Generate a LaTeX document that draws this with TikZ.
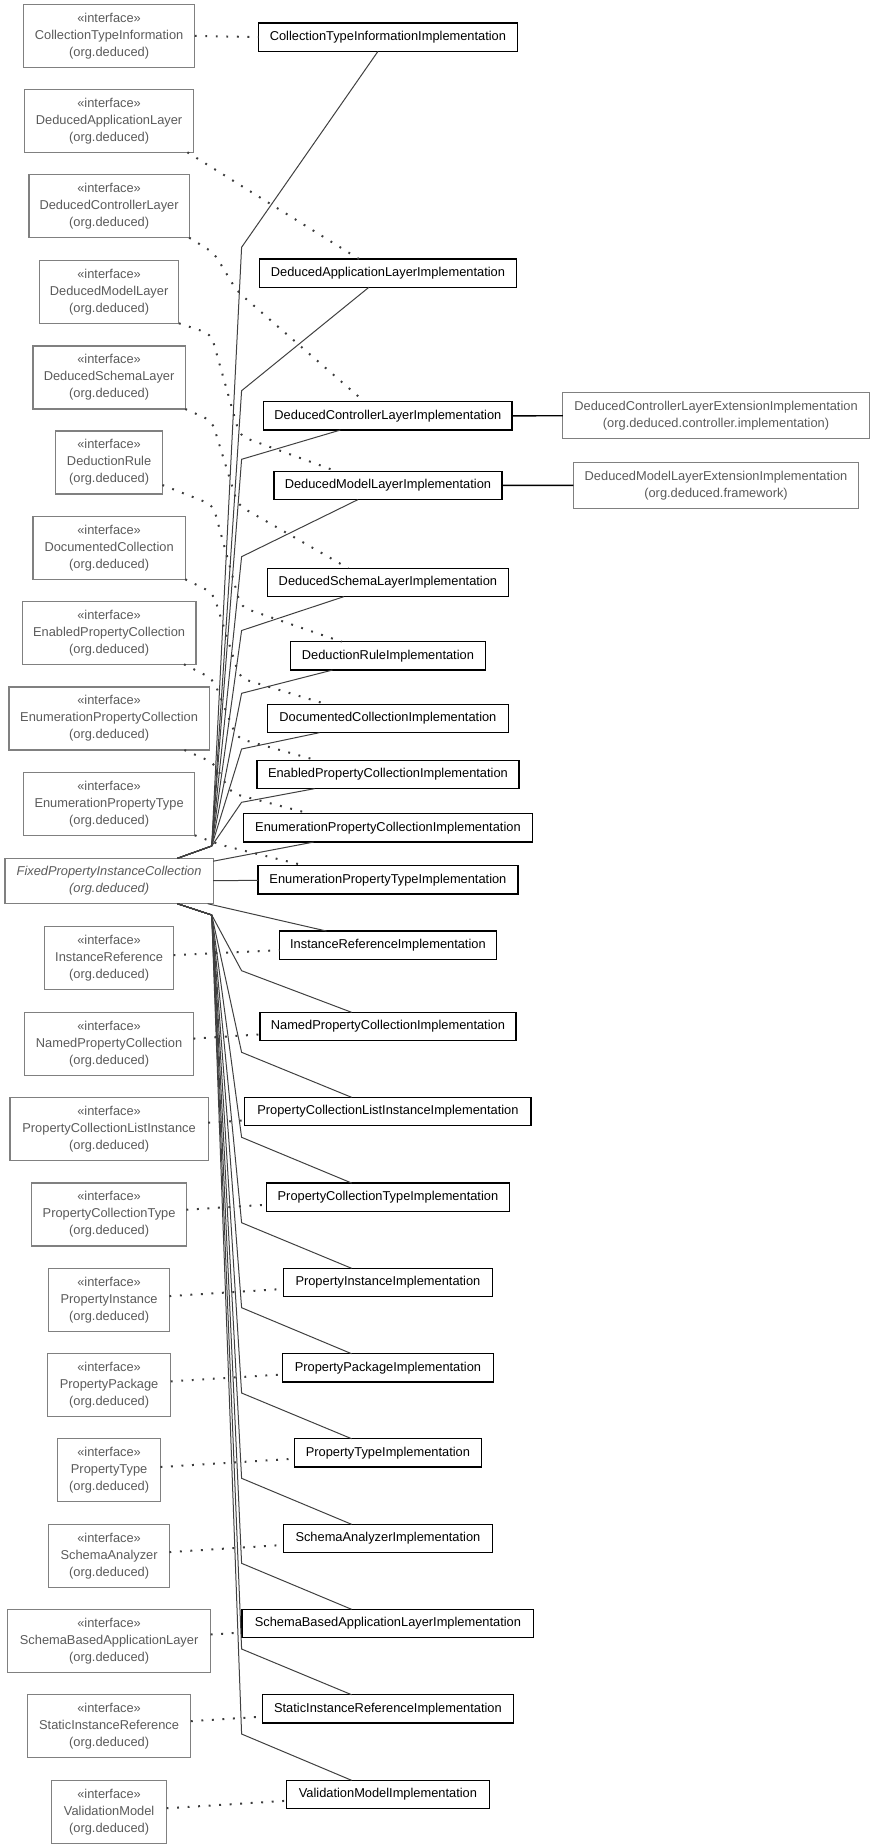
\documentclass[tikz,border=0pt]{standalone}
\usepackage{fontspec}
\setmainfont{Liberation Sans}
\usetikzlibrary{calc}
\definecolor{ifcline}{RGB}{128,128,128}
\definecolor{ifctext}{RGB}{90,90,90}
\definecolor{edgecol}{RGB}{64,64,64}
\definecolor{dotcol}{RGB}{60,60,60}
\begin{document}
\begin{tikzpicture}[x=0.7466pt,y=-0.75pt,
  every node/.style={font=\fontsize{9.63}{12.75}\selectfont, inner sep=0pt, outer sep=0pt},
  ifcbox/.style={draw=ifcline, line width=0.9pt, text=ifctext, align=center, minimum height=63*0.75pt, minimum width=#1*0.7466pt},
  fixbox/.style={draw=ifcline, line width=0.9pt, text=ifctext, align=center, font=\fontsize{9.63}{12.75}\selectfont\itshape, minimum height=45.4*0.75pt, minimum width=#1*0.7466pt},
  implbox/.style={draw=black, line width=1.05pt, text=black, minimum height=28.3*0.75pt, minimum width=#1*0.7466pt},
  extbox/.style={draw=ifcline, line width=0.9pt, text=ifctext, align=center, minimum height=45.5*0.75pt, minimum width=#1*0.7466pt},
  gen/.style={draw=edgecol, line width=0.75pt},
  real/.style={draw=dotcol, line width=1.5pt, dash pattern=on 1.4pt off 6.5pt, rounded corners=6pt},
  extl/.style={draw=black, line width=1.1pt}]
\useasboundingbox (0,0) rectangle (878.95,1848);

% interface boxes
\node[ifcbox=172.1] (iCTI) at (109.6,35.8) {«interface»\\CollectionTypeInformation\\(org.deduced)};
\node[ifcbox=169.4] (iDAL) at (109.6,120.8) {«interface»\\DeducedApplicationLayer\\(org.deduced)};
\node[ifcbox=160.9] (iDCL) at (109.6,206.2) {«interface»\\DeducedControllerLayer\\(org.deduced)};
\node[ifcbox=140.2] (iDML) at (109.6,291.8) {«interface»\\DeducedModelLayer\\(org.deduced)};
\node[ifcbox=153.1] (iDSL) at (109.6,377.5) {«interface»\\DeducedSchemaLayer\\(org.deduced)};
\node[ifcbox=107.1] (iDR) at (109.6,462.5) {«interface»\\DeductionRule\\(org.deduced)};
\node[ifcbox=153.1] (iDC) at (109.6,547.8) {«interface»\\DocumentedCollection\\(org.deduced)};
\node[ifcbox=174.5] (iEPC) at (109.6,632.8) {«interface»\\EnabledPropertyCollection\\(org.deduced)};
\node[ifcbox=201.3] (iEnPC) at (109.6,718.5) {«interface»\\EnumerationPropertyCollection\\(org.deduced)};
\node[ifcbox=172.1] (iEnPT) at (109.6,803.8) {«interface»\\EnumerationPropertyType\\(org.deduced)};
\node[fixbox=209.2] (Fixed) at (109.6,881) {FixedPropertyInstanceCollection\\(org.deduced)};
\node[ifcbox=129.5] (iIR) at (109.6,958.2) {«interface»\\InstanceReference\\(org.deduced)};
\node[ifcbox=169.4] (iNPC) at (109.6,1043.8) {«interface»\\NamedPropertyCollection\\(org.deduced)};
\node[ifcbox=199.1] (iPCLI) at (109.6,1128.8) {«interface»\\PropertyCollectionListInstance\\(org.deduced)};
\node[ifcbox=155.3] (iPCT) at (109.6,1214.5) {«interface»\\PropertyCollectionType\\(org.deduced)};
\node[ifcbox=121.1] (iPI) at (109.6,1299.8) {«interface»\\PropertyInstance\\(org.deduced)};
\node[ifcbox=123.9] (iPP) at (109.6,1385.2) {«interface»\\PropertyPackage\\(org.deduced)};
\node[ifcbox=103.2] (iPT) at (109.6,1470.2) {«interface»\\PropertyType\\(org.deduced)};
\node[ifcbox=121.1] (iSA) at (109.6,1555.8) {«interface»\\SchemaAnalyzer\\(org.deduced)};
\node[ifcbox=204.1] (iSBAL) at (109.6,1640.8) {«interface»\\SchemaBasedApplicationLayer\\(org.deduced)};
\node[ifcbox=164.3] (iSIR) at (109.6,1726.2) {«interface»\\StaticInstanceReference\\(org.deduced)};
\node[ifcbox=115.5] (iVM) at (109.6,1811.8) {«interface»\\ValidationModel\\(org.deduced)};

% implementation boxes
\node[implbox=260.2] (pCTI) at (389.7,37.2) {CollectionTypeInformationImplementation};
\node[implbox=258] (pDAL) at (389.7,273.2) {DeducedApplicationLayerImplementation};
\node[implbox=249.6] (pDCL) at (389.7,415.9) {DeducedControllerLayerImplementation};
\node[implbox=228.8] (pDML) at (389.7,485.5) {DeducedModelLayerImplementation};
\node[implbox=241.8] (pDSL) at (389.7,582.5) {DeducedSchemaLayerImplementation};
\node[implbox=196.3] (pDR) at (389.7,655.9) {DeductionRuleImplementation};
\node[implbox=241.8] (pDC) at (389.7,718.5) {DocumentedCollectionImplementation};
\node[implbox=263] (pEPC) at (389.7,774.5) {EnabledPropertyCollectionImplementation};
\node[implbox=290] (pEnPC) at (389.7,827.9) {EnumerationPropertyCollectionImplementation};
\node[implbox=261] (pEnPT) at (389.7,879.9) {EnumerationPropertyTypeImplementation};
\node[implbox=217.6] (pIR) at (389.7,945.2) {InstanceReferenceImplementation};
\node[implbox=257.4] (pNPC) at (389.7,1026.5) {NamedPropertyCollectionImplementation};
\node[implbox=287.7] (pPCLI) at (389.7,1111.5) {PropertyCollectionListInstanceImplementation};
\node[implbox=244.5] (pPCT) at (389.7,1197.2) {PropertyCollectionTypeImplementation};
\node[implbox=209.8] (pPI) at (389.7,1282.5) {PropertyInstanceImplementation};
\node[implbox=212] (pPP) at (389.7,1367.9) {PropertyPackageImplementation};
\node[implbox=187.9] (pPT) at (389.7,1452.9) {PropertyTypeImplementation};
\node[implbox=209.8] (pSA) at (389.7,1538.5) {SchemaAnalyzerImplementation};
\node[implbox=292.8] (pSBAL) at (389.7,1623.5) {SchemaBasedApplicationLayerImplementation};
\node[implbox=252.4] (pSIR) at (389.7,1708.9) {StaticInstanceReferenceImplementation};
\node[implbox=204.2] (pVM) at (389.7,1794.5) {ValidationModelImplementation};

% extension boxes
\node[extbox=307.9] (xDCL) at (719.3,415.6) {DeducedControllerLayerExtensionImplementation\\(org.deduced.controller.implementation)};
\node[extbox=286.6] (xDML) at (719.3,485.4) {DeducedModelLayerExtensionImplementation\\(org.deduced.framework)};

% extension edges
\draw[extl] (pDCL) -- (xDCL);
\draw[extl] (pDML) -- (xDML);

% generalization edges (bundle)
\coordinate (jU) at (212.7,846);
\coordinate (jL) at (212.7,915);
\foreach \n/\b/\dx in {CTI/247.3/-10, DAL/390.7/-19.2, DCL/459.3/-47.8, DML/556.7/-30.2,
                       DSL/630.5/-44.2, DR/693.3/-55.7, DC/749/-68.7, EPC/802.3/-73.7}
  \draw[gen] ($(Fixed.north east)+(-36,0)$) -- (jU) -- (242.7,\b) -- ($(p\n.south)+(\dx,0)$);
\draw[gen] (Fixed) -- (pEnPC);
\draw[gen] (Fixed) -- (pEnPT);
\draw[gen] (Fixed) -- (pIR);
\foreach \n/\b in {NPC/970.7, PCLI/1052.3, PCT/1137.3, PI/1222.7, PP/1307.7, PT/1393,
                   SA/1478.3, SBAL/1563.3, SIR/1649, VM/1734}
  \draw[gen] ($(Fixed.south east)+(-36,0)$) -- (jL) -- (242.7,\b) -- ($(p\n.north)+(-36.4,0)$);

% realization edges (dotted)
\draw[real] (iCTI.east) -- (pCTI.west);
\draw[real] ($(iDAL.south east)+(-6,0)$) -- ($(pDAL.north)+(-29,0)$);
\draw[real] (iDCL.south east) -- (215,253) -- (238,291) -- ($(pDCL.north)+(-23.5,0)$);
\draw[real] (iDML.south east) -- (212,334) -- (241,436) -- ($(pDML.north)+(-51.5,0)$);
\draw[real] (iDSL.south east) -- (213,421) -- (239,505) -- ($(pDSL.north)+(-39.7,0)$);
\draw[real] ($(iDR.south east)+(0,-9)$) -- (214,505) -- (242,607) -- ($(pDR.north)+(-46.4,0)$);
\draw[real] (iDC.south east) -- (214,593) -- (241,678) -- ($(pDC.north)+(-61.4,0)$);
\draw[real] ($(iEPC.south east)+(-12,0)$) -- (214,679) -- (238,738) -- ($(pEPC.north)+(-71.4,0)$);
\draw[real] ($(iEnPC.south east)+(-25,0)$) -- (215,763) -- (232,793) -- ($(pEnPC.north)+(-78,0)$);
\draw[real] (iEnPT.south east) -- (222,845) -- ($(pEnPT.north)+(-83,0)$);
\foreach \n in {IR, NPC, PCLI, PCT, PI, PP, PT, SA, SBAL, SIR, VM}
  \draw[real] (i\n) -- (p\n);
\end{tikzpicture}
\end{document}
